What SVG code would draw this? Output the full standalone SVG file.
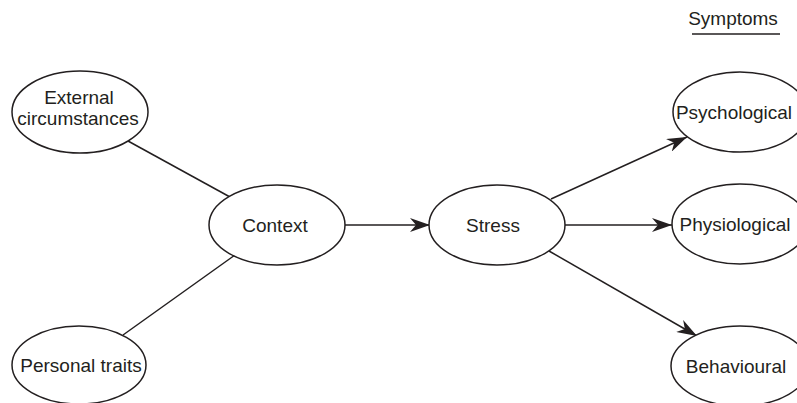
<svg xmlns="http://www.w3.org/2000/svg" width="797" height="403" viewBox="0 0 797 403">
<style>
.n ellipse{fill:#fff;stroke:#231f20;stroke-width:1.5}
text{font-family:"Liberation Sans",Arial,sans-serif;font-size:19px;fill:#231f20;text-anchor:middle}
.c line{stroke:#231f20;stroke-width:1.5}
.a{marker-end:url(#arr)}
</style>
<defs>
<marker id="arr" markerUnits="userSpaceOnUse" markerWidth="22" markerHeight="14" refX="20" refY="7" orient="auto">
<path d="M0,0 L20,7 L0,14 L6,7 z" fill="#231f20"/>
</marker>
</defs>
<rect width="797" height="403" fill="#fff"/>
<g id="connectors" class="c">
<line x1="128" y1="141" x2="230" y2="197"/>
<line x1="123" y1="335" x2="235" y2="255"/>
<line class="a" x1="345" y1="225" x2="430" y2="225"/>
<line class="a" x1="551" y1="199" x2="687" y2="137"/>
<line class="a" x1="565" y1="225" x2="672" y2="225"/>
<line class="a" x1="549" y1="251" x2="697" y2="336"/>
</g>
<g id="symptoms-label">
<text x="733" y="25">Symptoms</text>
<line x1="692" y1="34" x2="780" y2="34" stroke="#231f20" stroke-width="1.5"/>
</g>
<g id="external" class="n">
<ellipse cx="80" cy="112" rx="68" ry="41"/>
<text x="79" y="104">External</text>
<text x="78" y="125">circumstances</text>
</g>
<g id="personal" class="n">
<ellipse cx="79" cy="365" rx="67" ry="39"/>
<text x="81" y="372">Personal traits</text>
</g>
<g id="context" class="n">
<ellipse cx="277" cy="225" rx="68" ry="40"/>
<text x="275" y="232">Context</text>
</g>
<g id="stress" class="n">
<ellipse cx="497" cy="225" rx="68" ry="40"/>
<text x="493" y="232">Stress</text>
</g>
<g id="psychological" class="n">
<ellipse cx="740" cy="112" rx="67" ry="40"/>
<text x="734" y="119">Psychological</text>
</g>
<g id="physiological" class="n">
<ellipse cx="740" cy="224" rx="68" ry="40"/>
<text x="735" y="231">Physiological</text>
</g>
<g id="behavioural" class="n">
<ellipse cx="740" cy="366" rx="69" ry="40"/>
<text x="736" y="373">Behavioural</text>
</g>
</svg>
